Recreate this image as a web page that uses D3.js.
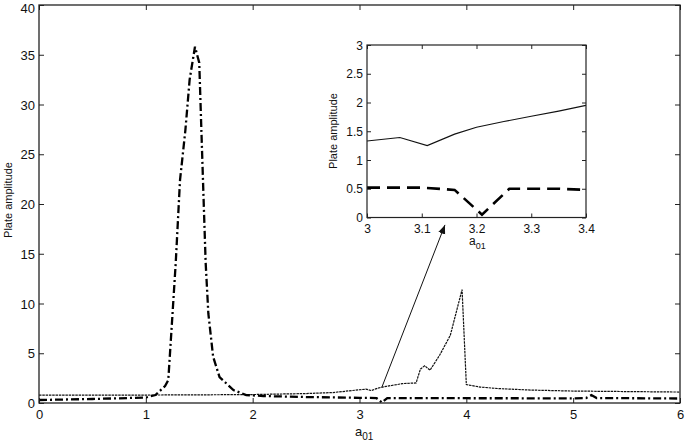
<!DOCTYPE html>
<html><head><meta charset="utf-8">
<script src="https://cdn.jsdelivr.net/npm/d3@7"></script>
<style>body{margin:0;background:#fff;} svg{display:block;} text{font-family:"Liberation Sans",Arial,sans-serif;fill:#111;}</style>
</head><body><svg id="c" width="685" height="444"></svg>
<script>
// Upper (thin) curve
const upperX = [0, 0.5, 1.0, 1.5, 2.0, 2.5, 2.75, 3.0, 3.06, 3.11, 3.16, 3.2, 3.25, 3.3, 3.35, 3.4, 3.5, 3.53, 3.57, 3.61, 3.66, 3.75, 3.85, 3.96, 4.0, 4.13, 4.3, 4.6, 5.0, 5.5, 6.0];
const upperY = [0.8, 0.8, 0.8, 0.82, 0.85, 0.95, 1.05, 1.33, 1.39, 1.25, 1.45, 1.57, 1.67, 1.76, 1.85, 1.95, 2.0, 2.02, 3.4, 3.75, 3.3, 4.8, 6.8, 11.4, 1.85, 1.6, 1.45, 1.3, 1.2, 1.15, 1.1];
// Resonance (dash-dot) curve
const peakX = [0, 0.5, 1.0, 1.09, 1.12, 1.18, 1.21, 1.24, 1.28, 1.32, 1.37, 1.41, 1.46, 1.5, 1.52, 1.54, 1.56, 1.585, 1.63, 1.69, 1.82, 1.94, 2.1, 2.5, 3.0, 3.05, 3.1, 3.16, 3.21, 3.26, 3.3, 3.35, 3.4, 4.0, 5.0, 5.12, 5.17, 5.22, 6.0];
const peakY = [0.3, 0.4, 0.55, 0.8, 1.1, 1.7, 2.3, 7.3, 14.1, 22.4, 27.4, 32.5, 35.8, 34.2, 27.4, 20.7, 14.1, 9.0, 4.65, 2.6, 1.3, 0.8, 0.7, 0.6, 0.52, 0.52, 0.52, 0.48, 0.05, 0.5, 0.5, 0.5, 0.48, 0.48, 0.47, 0.5, 0.8, 0.5, 0.45];
const mainXTicks = [0, 1, 2, 3, 4, 5, 6];
const mainYTicks = [0, 5, 10, 15, 20, 25, 30, 35, 40];
const insetXTicks = [3, 3.1, 3.2, 3.3, 3.4];
const insetYTicks = [0, 0.5, 1, 1.5, 2, 2.5, 3];
const yLabel = "Plate amplitude";
const arrowFrom = [3.21, 1.6], arrowTo = [3.8, 17.9];

const upper = upperX.map((x, i) => ({x, y: upperY[i]}));
const peak = peakX.map((x, i) => ({x, y: peakY[i]}));
const svg = d3.select("#c");

svg.append("defs").append("marker").attr("id", "ah").attr("viewBox", "0 0 10 10")
  .attr("refX", 10).attr("refY", 5).attr("markerWidth", 9).attr("markerHeight", 9)
  .attr("markerUnits", "userSpaceOnUse").attr("orient", "auto")
  .append("path").attr("d", "M0,1 L10,5 L0,9 Z").attr("fill", "#111");

function panel(g, box, xd, yd, xt, yt, fs, tickLen, clipId, isInset) {
  const x = d3.scaleLinear().domain(xd).range([box.l, box.r]);
  const y = d3.scaleLinear().domain(yd).range([box.b, box.t]);
  if (isInset) g.append("rect").attr("x", box.l).attr("y", box.t).attr("width", box.r - box.l).attr("height", box.b - box.t).attr("fill", "#fff");
  g.append("clipPath").attr("id", clipId).append("rect").attr("x", box.l).attr("y", box.t - 2).attr("width", box.r - box.l).attr("height", box.b - box.t + 2);
  const fmt = d3.format("");
  const ax = [
    d3.axisBottom(x).tickValues(xt).tickSize(-tickLen).tickFormat(fmt),
    d3.axisTop(x).tickValues(xt).tickSize(-tickLen).tickFormat(""),
    d3.axisLeft(y).tickValues(yt).tickSize(-tickLen).tickFormat(fmt),
    d3.axisRight(y).tickValues(yt).tickSize(-tickLen).tickFormat("")
  ];
  const tr = [`translate(0,${box.b})`, `translate(0,${box.t})`, `translate(${box.l},0)`, `translate(${box.r},0)`];
  ax.forEach((a, i) => {
    const ag = g.append("g").attr("transform", tr[i]).call(a);
    ag.select(".domain").remove();
    ag.selectAll("line").attr("stroke", "#222").attr("stroke-width", 1);
    ag.selectAll("text").attr("font-size", fs).attr("fill", "#111").attr("font-family", "Liberation Sans, Arial, sans-serif");
    if (i === 0) ag.selectAll("text").attr("dy", "0").attr("y", fs + 3);
    if (i === 2) ag.selectAll("text").attr("x", -4).attr("dy", "0.35em")
      .filter(d => y(d) < 10).attr("dy", "0.6em");
  });
  return {x, y};
}

// Main panel
const mb = {l: 39, r: 680, t: 5, b: 403};
const gm = svg.append("g");
const M = panel(gm, mb, [0, 6], [0, 40], mainXTicks, mainYTicks, 13, 5, "cm", false);
const lineM = d3.line().x(d => M.x(d.x)).y(d => M.y(d.y));
gm.append("path").datum(upper).attr("d", lineM).attr("fill", "none").attr("stroke", "#111")
  .attr("stroke-width", 1.2).attr("stroke-dasharray", "2.5,0.8").attr("clip-path", "url(#cm)");
gm.append("path").datum(peak).attr("d", lineM).attr("fill", "none").attr("stroke", "#000")
  .attr("stroke-width", 2.3).attr("stroke-dasharray", "8,3,2,3").attr("clip-path", "url(#cm)");
gm.append("rect").attr("x", mb.l).attr("y", mb.t).attr("width", mb.r - mb.l).attr("height", mb.b - mb.t)
  .attr("fill", "none").attr("stroke", "#222").attr("stroke-width", 1.3);
// arrow
gm.append("line").attr("x1", M.x(arrowFrom[0])).attr("y1", M.y(arrowFrom[1]))
  .attr("x2", M.x(arrowTo[0])).attr("y2", M.y(arrowTo[1]))
  .attr("stroke", "#111").attr("stroke-width", 1).attr("marker-end", "url(#ah)");
// labels
const xl = gm.append("text").attr("x", 355).attr("y", 436).attr("font-size", 13);
xl.append("tspan").text("a");
xl.append("tspan").attr("font-size", 10).attr("dy", 4).text("01");
gm.append("text").attr("transform", "translate(12,200) rotate(-90)").attr("text-anchor", "middle")
  .attr("font-size", 11).text(yLabel);

// Inset
const ib = {l: 367, r: 586, t: 45, b: 217.5};
const gi = svg.append("g");
const I = panel(gi, ib, [3, 3.4], [0, 3], insetXTicks, insetYTicks, 12, 4, "ci", true);
const lineI = d3.line().x(d => I.x(d.x)).y(d => I.y(d.y));
const inRange = d => d.x >= 3 && d.x <= 3.4;
gi.append("path").datum(upper.filter(inRange)).attr("d", lineI).attr("fill", "none").attr("stroke", "#111")
  .attr("stroke-width", 1.1).attr("clip-path", "url(#ci)");
gi.append("path").datum(peak.filter(inRange)).attr("d", lineI).attr("fill", "none").attr("stroke", "#000")
  .attr("stroke-width", 2.6).attr("stroke-dasharray", "13,7").attr("clip-path", "url(#ci)");
gi.append("rect").attr("x", ib.l).attr("y", ib.t).attr("width", ib.r - ib.l).attr("height", ib.b - ib.t)
  .attr("fill", "none").attr("stroke", "#222").attr("stroke-width", 1.2);
const xli = gi.append("text").attr("x", 469).attr("y", 245).attr("font-size", 12);
xli.append("tspan").text("a");
xli.append("tspan").attr("font-size", 9).attr("dy", 4).text("01");
gi.append("text").attr("transform", "translate(337,131) rotate(-90)").attr("text-anchor", "middle")
  .attr("font-size", 11).text(yLabel);
</script></body></html>
